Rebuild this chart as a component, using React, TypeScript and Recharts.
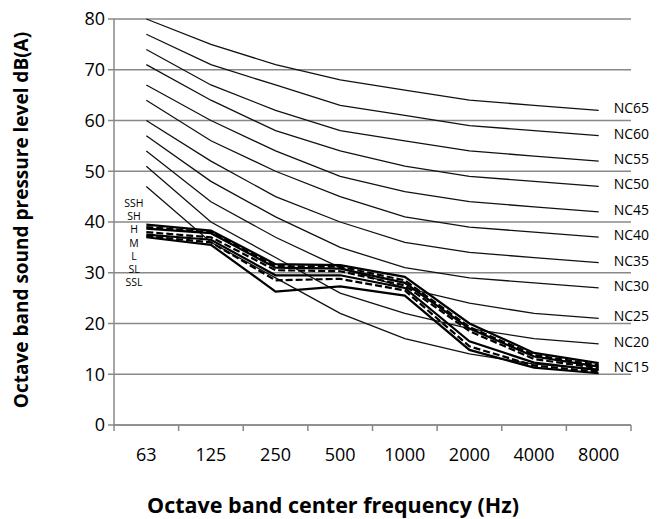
import { LineChart, Line, XAxis, YAxis, CartesianGrid, LabelList } from "recharts"

const bands = ["63", "125", "250", "500", "1000", "2000", "4000", "8000"]
const yTicks = [0, 10, 20, 30, 40, 50, 60, 70, 80]

// NC curves, dB per octave band
const ncNames = ["NC15", "NC20", "NC25", "NC30", "NC35", "NC40", "NC45", "NC50", "NC55", "NC60", "NC65"]
const nc15 = [47, 36, 29, 22, 17, 14, 12, 11]
const nc20 = [51, 40, 33, 26, 22, 19, 17, 16]
const nc25 = [54, 44, 37, 31, 27, 24, 22, 21]
const nc30 = [57, 48, 41, 35, 31, 29, 28, 27]
const nc35 = [60, 52, 45, 40, 36, 34, 33, 32]
const nc40 = [64, 56, 50, 45, 41, 39, 38, 37]
const nc45 = [67, 60, 54, 49, 46, 44, 43, 42]
const nc50 = [71, 64, 58, 54, 51, 49, 48, 47]
const nc55 = [74, 67, 62, 58, 56, 54, 53, 52]
const nc60 = [77, 71, 67, 63, 61, 59, 58, 57]
const nc65 = [80, 75, 71, 68, 66, 64, 63, 62]
const ncSeries = [nc15, nc20, nc25, nc30, nc35, nc40, nc45, nc50, nc55, nc60, nc65]

// measured fan speeds
const noiseNames = ["SSH", "SH", "H", "M", "L", "SL", "SSL"]
const ssh = [39.5, 38.3, 31.7, 31.5, 29.2, 20, 14.2, 12.2]
const sh = [39, 38, 31.3, 31.2, 28.5, 19.3, 13.8, 11.8]
const h = [38.7, 37.8, 31, 30.8, 28, 19, 13.5, 11.5]
const m = [38, 37, 30.5, 30.3, 27.5, 18.5, 13, 11.2]
const l = [37.5, 36.5, 29.5, 29.5, 27, 16.5, 12.3, 10.8]
const sl = [37.2, 36, 28.5, 28.8, 26.5, 15.5, 11.7, 10.5]
const ssl = [37, 35.5, 26.3, 27.3, 25.5, 14.8, 11.3, 10.2]
const noiseSeries = [ssh, sh, h, m, l, sl, ssl]

const data = bands.map((b, i) => {
    const row: Record<string, number | string> = { x: i + 0.5, band: b }
    ncNames.forEach((n, k) => (row[n] = ncSeries[k][i]))
    noiseNames.forEach((n, k) => (row[n] = noiseSeries[k][i]))
    return row
})

const xTicks = Array.from({ length: bands.length * 2 + 1 }, (_, i) => i / 2)

const font = "'Open Sans', sans-serif"
const gray = "#888888"

function BandTick(props: any) {
    const { x, y, payload } = props
    const v = payload.value
    if (Number.isInteger(v)) {
        return <line x1={x} y1={y} x2={x} y2={y + 6} stroke={gray} strokeWidth={1.5} />
    }
    return (
        <text x={x} y={y + 30} dy="0.35em" textAnchor="middle" fontSize={18} fontFamily={font} fill="#000">
            {bands[Math.floor(v)]}
        </text>
    )
}

function ncLabel(name: string) {
    return (p: any) => {
        if (p.index !== bands.length - 1) return null
        return (
            <text x={p.x + 15} y={p.y - 2} dy="0.35em" fontSize={14} fontFamily={font} fill="#000">
                {name}
            </text>
        )
    }
}

export default function App() {
    return (
        <div style={{ position: "relative", width: 657, height: 511 }}>
            <LineChart width={657} height={511} data={data} margin={{ top: 11, right: 34, left: 0, bottom: 0 }}>
                <CartesianGrid vertical={false} stroke={gray} strokeWidth={1.5} />
                <XAxis
                    type="number"
                    dataKey="x"
                    domain={[0, 8]}
                    ticks={xTicks}
                    interval={0}
                    tickSize={0}
                    tickMargin={0}
                    tickLine={false}
                    axisLine={{ stroke: gray, strokeWidth: 1.5 }}
                    tick={<BandTick />}
                    height={94}
                />
                <YAxis
                    domain={[0, 80]}
                    ticks={yTicks}
                    interval={0}
                    width={106}
                    tickSize={6}
                    tickMargin={3}
                    tickLine={{ stroke: gray, strokeWidth: 1.5 }}
                    axisLine={{ stroke: gray, strokeWidth: 1.5 }}
                    tick={{ fontSize: 18, fontFamily: font, fill: "#000" }}
                />
                {ncNames.map((n) => (
                    <Line
                        key={n}
                        dataKey={n}
                        stroke="#111"
                        strokeWidth={1.3}
                        dot={false}
                        isAnimationActive={false}
                    >
                        <LabelList dataKey={n} content={ncLabel(n)} />
                    </Line>
                ))}
                {noiseNames.map((n, k) => (
                    <Line
                        key={n}
                        dataKey={n}
                        stroke="#000"
                        strokeWidth={2.2}
                        strokeDasharray={k % 2 === 1 ? "7 3" : undefined}
                        dot={false}
                        isAnimationActive={false}
                    />
                ))}
            </LineChart>
            <svg width={657} height={511} style={{ position: "absolute", left: 0, top: 0, pointerEvents: "none" }}>
                {noiseNames.map((n, k) => (
                    <text key={n} x={126} y={195 + k * 13.3} dy="0.35em" textAnchor="middle" fontSize={10.5} fontFamily={font} fill="#000">
                        {n}
                    </text>
                ))}
                <text
                    x={13}
                    y={212}
                    transform="rotate(-90 13 212)"
                    textAnchor="middle"
                    dy="0.35em"
                    fontSize={19}
                    fontWeight="bold"
                    fontFamily={font}
                    fill="#000"
                >
                    Octave band sound pressure level dB(A)
                </text>
                <text x={325} y={497} textAnchor="middle" dy="0.35em" fontSize={21.5} fontWeight="bold" fontFamily={font} fill="#000">
                    Octave band center frequency (Hz)
                </text>
            </svg>
        </div>
    )
}
